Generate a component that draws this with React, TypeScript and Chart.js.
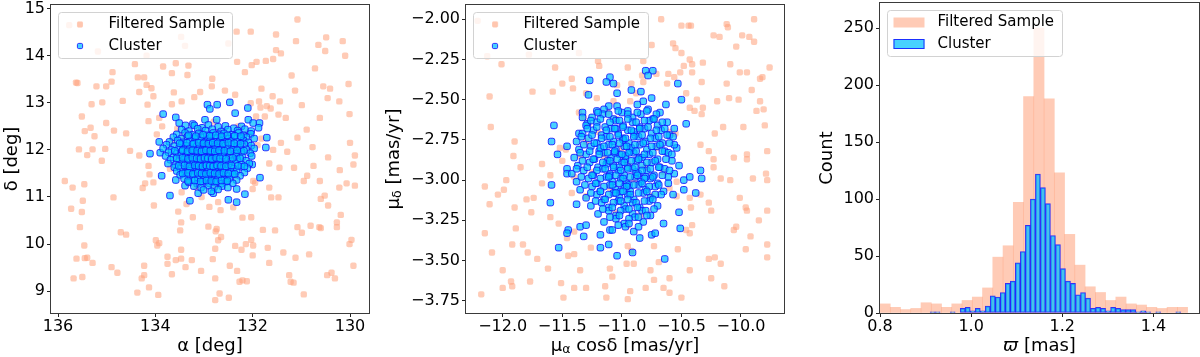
import React, { useEffect, useRef } from "react";
import { Chart, registerables } from "chart.js";

Chart.register(...registerables);

const FAMILY = "'DejaVu Sans', 'Liberation Sans', sans-serif";
const FIELD_FILL = "rgba(255, 160, 122, 0.55)";
const CLUSTER_FILL = "rgba(0, 191, 255, 0.72)";
const CLUSTER_EDGE = "rgba(20, 20, 255, 0.85)";
const FRAME = "#3a3a3a";

const legendLabels = ["Filtered Sample", "Cluster"];

// ---------- Panel 1: sky positions (alpha, delta) ----------
const skyField: [number, number][] = [
  [135.77,14.65],[135.55,14.66],[135.18,14.09],[134.18,14.0],[133.47,14.4],[133.39,14.21],[132.5,14.26],[132.33,14.51],[132.04,14.51],[131.08,14.77],[131.52,14.45],[131.11,14.31],[130.65,14.23],[130.49,14.39],[130.51,14.1],[130.15,14.31],[130.1,14.0],[131.52,14.12],[131.42,14.05],
  [131.58,13.93],[131.73,13.89],[131.92,13.87],[132.02,13.8],[132.32,13.87],[132.16,13.65],[134.42,13.82],[133.84,13.77],[133.58,13.84],[133.32,13.79],[133.34,13.59],[133.66,13.63],[134.36,13.54],[134.23,13.54],[134.18,13.38],[134.08,13.31],[134.04,13.14],[134.33,13.23],[134.88,13.65],[134.9,13.45],[135.21,13.35],[135.01,13.35],[135.63,13.43],[135.6,13.42],[135.31,12.97],[135.09,13.01],[134.67,13.04],[134.16,12.96],[133.62,13.22],[133.66,12.97],[133.46,13.03],[133.2,13.12],[133.08,13.23],[132.84,13.35],[132.83,13.51],[132.57,13.26],[132.36,13.17],[131.82,13.3],[132.04,12.99],[131.87,13.03],[131.59,13.14],[131.71,12.93],[131.44,13.03],[131.2,13.58],[131.13,13.26],[130.99,12.95],[130.72,13.73],[130.55,13.35],[130.41,13.3],[130.03,13.4],[130.22,13.03],[130.46,13.1],
  [135.51,12.71],[135.33,12.47],[135.45,12.4],[135.25,12.29],[135.01,12.57],[134.85,12.41],[134.6,12.35],[135.57,12.01],[135.29,12.01],[135.4,11.89],[135.03,12.02],[135.1,11.77],[134.52,11.98],[134.33,11.88],[134.14,12.61],[133.92,12.68],[133.86,12.5],[133.97,12.33],[130.01,12.76],[130.0,12.15],[129.93,11.69],[129.9,11.88],[129.9,11.24],[130.89,12.43],[130.62,12.68],[130.77,12.06],[131.32,12.68],[131.47,12.75],[131.63,12.88],[131.84,12.9],[131.75,12.71],[131.93,12.71],[131.42,12.15],[131.29,11.96],[131.08,12.26],[131.82,12.24],[131.58,12.0],
  [130.21,11.57],[130.07,11.29],[130.22,11.2],[130.45,11.84],[130.62,11.34],[130.88,11.45],[130.95,11.34],[130.75,11.66],[131.15,11.62],[131.45,11.62],[131.66,11.71],[131.66,11.2],[131.47,10.99],[131.62,10.99],[132.0,11.17],[131.99,11.34],[135.86,11.34],[135.7,11.2],[135.73,10.75],[135.46,11.27],[135.49,10.92],[135.51,10.68],[134.86,10.99],[134.21,11.29],[134.26,11.19],[134.14,11.66],[134.12,11.48],[134.04,11.31],[133.46,11.1],[133.05,11.0],[132.71,10.89],[132.89,10.79],[132.66,10.72],[132.4,10.78],[132.21,10.56],[132.03,10.57],[133.36,10.85],[133.53,10.69],[133.23,10.57],[134.03,10.82],[133.47,10.46],
  [135.55,10.36],[134.71,10.25],[134.6,10.2],[133.99,10.08],[133.92,10.02],[133.96,9.97],[133.49,10.29],[132.91,10.37],[132.74,10.32],[132.76,10.27],[132.71,10.08],[132.65,10.15],[132.77,9.9],[132.36,9.96],[132.23,9.88],[132.14,10.0],[131.99,9.97],[132.03,10.09],[131.79,10.3],[131.54,10.29],[131.69,9.92],[131.37,9.82],[131.12,9.71],[131.08,10.36],[130.99,10.24],[130.81,10.39],[130.63,10.36],[130.6,10.34],[130.27,10.36],[130.27,10.46],[130.19,10.62],[130.45,10.82],[130.6,10.96],[130.52,11.03],[130.01,10.0],[129.97,10.09],[135.46,9.97],
  [135.62,9.69],[135.45,9.7],[135.4,9.71],[135.29,9.6],[135.68,9.27],[135.5,9.3],[134.9,9.51],[134.78,9.39],[134.37,8.97],[134.28,9.27],[134.23,9.34],[134.23,9.54],[134.13,9.08],[133.94,8.92],[133.75,9.73],[133.75,9.58],[133.66,9.36],[133.58,9.66],[133.47,9.69],[133.47,9.88],[133.38,9.51],[133.25,9.66],[133.06,9.43],[132.82,9.68],[132.77,9.27],[132.68,8.95],[132.77,8.81],[132.49,8.86],[132.47,9.54],[132.32,9.43],[132.21,9.23],[132.27,9.2],[132.12,9.21],[132.0,9.76],[131.66,9.6],[131.25,9.34],[131.22,9.2],[131.16,9.18],[130.95,8.93],[130.84,9.78],[130.47,9.34],[130.38,9.39],[130.31,9.27],[129.93,9.54],
  [133.4,12.3],[133.1,12.45],[132.7,12.38],[132.4,12.2],[132.2,11.95],[132.55,11.6],[132.95,11.4],[133.25,11.55],[133.5,11.8],[133.3,12.05],[132.85,11.85],[132.65,12.05],[133.05,11.7],[132.35,11.45],[132.75,11.25],[133.15,11.2],[132.1,12.35],[131.9,12.1],[133.65,12.2],[133.7,11.6],[132.45,11.9],[132.9,12.15],[133.2,11.9],[132.6,11.75],[133.0,11.55],[132.3,12.5],[133.55,12.45],[132.8,12.6],[131.95,11.3],[133.35,11.35]
];

const skyCluster: [number, number][] = [
  [133.84,12.76],[133.58,12.69],[133.51,12.57],[133.38,12.52],[133.23,12.55],[132.93,12.96],[132.88,12.87],[132.73,12.96],[132.47,13.01],[132.36,12.78],[132.1,12.89],[132.09,12.64],[131.99,12.57],[131.86,12.57],[131.88,12.47],[131.71,12.26],[131.73,12.05],[131.85,11.41],[132.16,11.06],[132.33,10.89],[132.5,10.94],[133.29,10.92],[133.7,11.03],[133.87,11.45],[134.11,11.92],[133.9,11.94],[133.92,12.17],[133.58,11.36],[133.39,11.24],[133.12,11.08],[132.81,11.08],[132.33,11.17],[132.01,11.69],[132.74,12.64],[132.98,12.64],
  [133.2,12.52],[133.04,12.47],[132.91,12.53],[132.71,12.49],[132.56,12.51],[132.39,12.46],[132.23,12.5],
  [133.46,12.43],[133.31,12.4],[133.13,12.45],[132.97,12.41],[132.83,12.44],[132.65,12.39],[132.51,12.43],[132.31,12.41],[132.16,12.44],[132.03,12.4],
  [133.56,12.33],[133.39,12.36],[133.24,12.32],[133.11,12.35],[132.94,12.31],[132.81,12.36],[132.69,12.33],[132.59,12.35],[132.44,12.32],[132.29,12.36],[132.19,12.31],[132.04,12.34],
  [133.63,12.27],[133.47,12.24],[133.34,12.28],[133.19,12.25],[133.07,12.27],[132.92,12.23],[132.85,12.28],[132.73,12.25],[132.63,12.27],[132.49,12.24],[132.39,12.28],[132.24,12.25],[132.13,12.27],[131.97,12.24],
  [133.71,12.17],[133.54,12.2],[133.43,12.16],[133.29,12.19],[133.19,12.17],[133.07,12.2],[132.99,12.16],[132.87,12.19],[132.79,12.17],[132.67,12.2],[132.58,12.16],[132.44,12.19],[132.33,12.17],[132.19,12.2],[132.09,12.16],
  [133.77,12.11],[133.61,12.08],[133.46,12.12],[133.37,12.09],[133.24,12.11],[133.15,12.08],[133.03,12.12],[132.95,12.09],[132.84,12.11],[132.77,12.08],[132.65,12.12],[132.56,12.09],[132.43,12.11],[132.32,12.08],[132.17,12.12],[132.03,12.09],
  [133.84,12.03],[133.67,12.0],[133.51,12.04],[133.41,12.01],[133.29,12.03],[133.21,12.0],[133.09,12.04],[133.02,12.01],[132.91,12.03],[132.84,12.0],[132.73,12.04],[132.65,12.01],[132.51,12.03],[132.41,12.0],[132.26,12.04],[132.13,12.01],[131.97,12.03],
  [133.73,11.95],[133.56,11.92],[133.46,11.96],[133.33,11.93],[133.25,11.95],[133.14,11.92],[133.07,11.96],[132.97,11.93],[132.9,11.95],[132.8,11.92],[132.73,11.96],[132.61,11.93],[132.51,11.95],[132.36,11.92],[132.23,11.96],[132.05,11.93],
  [133.79,11.87],[133.63,11.84],[133.47,11.88],[133.38,11.85],[133.26,11.87],[133.19,11.84],[133.08,11.88],[133.02,11.85],[132.92,11.87],[132.87,11.84],[132.77,11.88],[132.71,11.85],[132.59,11.87],[132.49,11.84],[132.34,11.88],[132.21,11.85],[132.02,11.87],
  [133.69,11.79],[133.51,11.76],[133.41,11.8],[133.29,11.77],[133.22,11.79],[133.11,11.76],[133.05,11.8],[132.95,11.77],[132.9,11.79],[132.81,11.76],[132.76,11.8],[132.66,11.77],[132.58,11.79],[132.44,11.76],[132.32,11.8],[132.14,11.77],
  [133.74,11.71],[133.58,11.68],[133.43,11.72],[133.34,11.69],[133.22,11.71],[133.15,11.68],[133.05,11.72],[132.99,11.69],[132.9,11.71],[132.85,11.68],[132.76,11.72],[132.7,11.69],[132.59,11.71],[132.5,11.68],[132.35,11.72],[132.23,11.69],[132.07,11.71],
  [133.61,11.63],[133.48,11.6],[133.34,11.64],[133.26,11.61],[133.15,11.63],[133.08,11.6],[132.98,11.64],[132.93,11.61],[132.84,11.63],[132.79,11.6],[132.69,11.64],[132.62,11.61],[132.49,11.63],[132.39,11.6],[132.23,11.64],[132.11,11.61],
  [133.56,11.55],[133.39,11.52],[133.29,11.56],[133.17,11.53],[133.1,11.55],[132.99,11.52],[132.93,11.56],[132.83,11.53],[132.77,11.55],[132.66,11.52],[132.58,11.56],[132.44,11.53],[132.33,11.55],[132.17,11.52],
  [133.49,11.47],[133.32,11.44],[133.22,11.48],[133.09,11.45],[133.01,11.47],[132.9,11.44],[132.83,11.48],[132.72,11.45],[132.64,11.47],[132.51,11.44],[132.41,11.48],[132.26,11.45],
  [133.41,11.39],[133.24,11.36],[133.13,11.4],[133.0,11.37],[132.91,11.39],[132.79,11.36],[132.71,11.4],[132.58,11.37],[132.48,11.39],[132.33,11.36],
  [133.31,11.31],[133.14,11.28],[133.03,11.32],[132.89,11.29],[132.79,11.31],[132.65,11.28],[132.55,11.32],[132.41,11.29],
  [133.21,11.23],[133.06,11.2],[132.91,11.24],[132.79,11.21],[132.63,11.23],[132.51,11.2],
  [133.01,11.15],[132.85,11.12],[132.71,11.16],
  [132.88,11.74],[132.93,11.82],[132.82,11.81],[132.97,11.73],[132.79,11.66],[133.02,11.91],[132.86,11.9],[132.74,11.83],[132.95,11.65],[133.06,11.83],[132.69,11.75],[132.91,11.58],[132.84,11.97],[133.12,11.72],[132.78,12.02],[132.62,11.88],[133.0,11.99],[132.87,11.66],[132.71,11.93],[132.99,11.8],
  [133.32,12.31],[133.17,12.29],[133.02,12.32],[132.88,12.3],[132.76,12.31],[132.64,12.29],[132.52,12.31],[132.37,12.3],[132.24,12.29],
  [133.5,12.14],[133.35,12.15],[133.22,12.13],[133.11,12.15],[133.01,12.14],[132.91,12.13],[132.82,12.15],[132.72,12.14],[132.61,12.13],[132.5,12.15],[132.38,12.14],[132.25,12.13],
  [133.6,11.98],[133.44,11.99],[133.34,11.97],[133.24,11.99],[133.14,11.98],[133.05,11.97],[132.96,11.99],[132.87,11.98],[132.78,11.97],[132.69,11.99],[132.58,11.98],[132.46,11.97],[132.32,11.99],[132.18,11.98],
  [133.56,11.82],[133.44,11.83],[133.33,11.81],[133.24,11.83],[133.15,11.82],[133.07,11.81],[132.99,11.83],[132.92,11.82],[132.84,11.81],[132.75,11.83],[132.67,11.82],[132.55,11.81],[132.41,11.83],[132.26,11.82],
  [133.52,11.66],[133.4,11.67],[133.3,11.65],[133.19,11.67],[133.11,11.66],[133.03,11.65],[132.95,11.67],[132.88,11.66],[132.81,11.65],[132.73,11.67],[132.65,11.66],[132.55,11.65],[132.44,11.67],[132.3,11.66],[132.17,11.65],
  [133.44,11.5],[133.33,11.51],[133.23,11.49],[133.13,11.51],[133.05,11.5],[132.96,11.49],[132.87,11.51],[132.78,11.5],[132.69,11.49],[132.6,11.51],[132.5,11.5],[132.37,11.49],
  [133.33,11.34],[133.19,11.35],[133.07,11.33],[132.95,11.35],[132.85,11.34],[132.75,11.33],[132.64,11.35],[132.52,11.34]
];

const skyAlphaRange = [129.61, 136.144];
const skyDeltaRange = [8.536, 15.077];

// ---------- Panel 2: proper motions (mu_alpha cos delta, mu_delta) ----------
const pmField: [number, number][] = [
  [-12.21,-2.01],[-12.06,-2.03],[-12.13,-2.23],[-12.01,-2.28],[-11.78,-2.22],[-11.36,-2.21],[-11.2,-2.26],[-11.19,-2.29],[-10.95,-2.3],[-10.82,-2.26],[-10.75,-2.16],[-10.67,-2.0],[-10.5,-2.04],[-10.44,-2.04],[-10.42,-2.04],[-10.57,-2.15],[-10.55,-2.18],[-10.5,-2.21],[-10.43,-2.25],[-10.41,-2.28],[-10.48,-2.29],[-10.51,-2.33],[-10.41,-2.33],[-10.32,-2.27],[-10.23,-2.1],[-10.18,-2.11],[-10.12,-2.03],[-10.11,-2.05],[-10.04,-2.17],[-9.99,-2.1],[-9.93,-2.11],[-9.89,-2.0],[-9.89,-2.14],[-9.95,-2.33],[-10.01,-2.33],[-10.09,-2.28],[-9.76,-2.3],
  [-10.61,-2.34],[-10.56,-2.36],[-10.62,-2.4],[-10.33,-2.39],[-10.12,-2.4],[-9.82,-2.36],[-9.84,-2.37],[-9.91,-2.44],[-9.84,-2.51],[-10.02,-2.5],[-10.1,-2.49],[-10.2,-2.51],[-10.37,-2.5],[-10.43,-2.55],[-10.32,-2.55],[-10.33,-2.59],[-10.15,-2.67],[-9.98,-2.67],[-9.8,-2.66],[-9.81,-2.56],[-9.87,-2.57],[-10.83,-2.35],[-10.71,-2.34],[-10.82,-2.39],[-10.92,-2.4],[-11.04,-2.41],[-11.56,-2.3],[-11.5,-2.4],[-11.42,-2.37],[-11.58,-2.45],[-11.75,-2.45],[-11.41,-2.43],[-11.3,-2.46],[-11.21,-2.49],[-11.07,-2.51],[-10.93,-2.51],[-10.88,-2.46],
  [-12.11,-2.48],[-12.1,-2.67],[-11.9,-2.76],[-11.91,-2.85],[-11.85,-2.92],[-11.67,-2.9],[-11.6,-2.97],[-11.67,-3.02],[-11.74,-3.11],[-11.8,-3.12],[-11.97,-3.0],[-11.99,-3.06],[-12.04,-3.09],[-12.11,-3.15],[-12.15,-3.04],[-11.9,-3.17],[-11.76,-3.2],[-11.89,-3.3],[-12.15,-3.33],[-11.92,-3.4],[-11.83,-3.4],[-11.79,-3.45],[-12.09,-3.45],[-12.0,-3.56],[-11.93,-3.63],[-11.92,-3.66],[-12.0,-3.67],[-12.18,-3.71],[-11.77,-3.63],[-11.71,-3.49],[-11.62,-3.55],[-11.51,-3.64],[-11.49,-3.73],[-11.4,-3.67],[-11.45,-3.47],[-11.4,-3.46],[-11.3,-3.67],[-11.35,-3.56],[-11.26,-3.42],[-11.14,-3.66],[-11.13,-3.73],[-11.1,-3.55],[-11.08,-3.6],[-10.95,-3.74],[-10.93,-3.69],[-10.95,-3.41],[-10.92,-3.44],[-10.96,-3.52],[-10.9,-3.52],
  [-10.8,-3.67],[-10.76,-3.56],[-10.73,-3.62],[-10.73,-3.41],[-10.69,-3.51],[-10.65,-3.67],[-10.6,-3.61],[-10.6,-3.7],[-10.5,-3.73],[-10.53,-3.43],[-10.43,-3.56],[-10.43,-3.33],[-10.46,-3.31],[-10.41,-3.28],[-10.42,-3.17],[-10.43,-3.11],[-10.34,-3.09],[-10.27,-3.14],[-10.25,-3.19],[-10.27,-3.49],[-10.22,-3.48],[-10.17,-3.52],[-10.25,-3.61],[-10.14,-3.66],[-10.06,-3.31],[-10.04,-3.29],[-9.96,-3.43],[-9.92,-3.35],[-9.95,-3.19],[-9.96,-3.17],[-10.01,-3.11],[-10.17,-2.99],[-10.09,-3.0],[-9.9,-2.99],[-9.78,-3.0],[-9.79,-2.96],[-9.85,-3.25],[-9.78,-3.19],[-9.78,-3.4],[-9.78,-3.48],[-9.78,-2.82],[-9.95,-2.84],[-9.95,-2.87],[-10.06,-2.86],[-10.23,-2.92],[-10.23,-2.87],[-10.34,-2.78],[-10.27,-2.82],[-10.46,-2.46],[-10.39,-2.57],[-10.22,-2.71],[-10.55,-2.71],[-10.54,-3.01],[-10.54,-3.1],
  [-11.3,-2.76],[-11.32,-2.61],[-11.36,-2.58],[-11.52,-2.8],[-11.47,-2.81],[-11.5,-2.88],[-11.4,-3.32],[-11.53,-3.27],[-11.6,-3.23],[-11.46,-3.36],
  [-11.2,-2.7],[-11.05,-2.62],[-10.85,-2.68],[-10.7,-2.8],[-11.25,-2.95],[-11.1,-3.05],[-10.9,-3.0],[-10.75,-3.1],[-11.0,-2.8],[-10.95,-2.9],[-11.15,-2.85],[-10.8,-2.92],[-11.3,-3.1],[-10.65,-2.95],[-11.05,-3.2],[-10.85,-3.22],[-11.35,-2.85],[-10.6,-2.7],[-11.12,-2.58],[-10.95,-3.28],[-11.4,-2.98],[-11.42,-3.08],[-10.6,-3.05],[-10.72,-2.62],[-11.28,-2.65]
];

const pmCluster: [number, number][] = [
  [-11.1,-2.36],[-11.13,-2.39],[-11.07,-2.4],[-11.04,-2.46],[-11.27,-2.38],[-11.28,-2.47],[-10.92,-2.44],[-10.84,-2.45],[-10.8,-2.32],[-10.74,-2.32],[-10.78,-2.35],[-10.75,-2.49],[-10.53,-2.4],[-10.5,-2.5],[-10.63,-2.53],[-10.82,-2.51],[-11.11,-2.54],[-11.21,-2.57],[-11.33,-2.58],[-11.33,-2.61],[-11.29,-2.65],[-11.57,-2.66],[-11.36,-2.71],[-11.59,-2.76],[-11.46,-2.79],[-11.54,-2.84],[-11.59,-3.03],[-11.6,-3.14],[-11.46,-2.93],[-11.46,-2.96],[-11.38,-3.15],[-11.45,-3.31],[-11.46,-3.33],[-11.53,-3.42],[-11.35,-3.29],[-11.32,-3.35],[-11.3,-3.28],[-11.18,-3.34],[-11.18,-3.42],[-11.1,-3.31],[-11.11,-3.4],[-11.04,-3.47],[-10.91,-3.45],[-10.85,-3.36],[-10.75,-3.34],[-10.72,-3.33],[-10.65,-3.27],[-10.64,-3.49],[-10.52,-3.2],[-10.51,-3.3],[-10.57,-3.09],[-10.48,-3.06],[-10.48,-3.0],[-10.38,-3.08],[-10.34,-2.94],[-10.33,-2.99],[-10.43,-2.98],[-10.46,-2.65],[-10.56,-2.68],[-10.54,-2.8],[-10.52,-2.91],
  [-11.15,-2.56],[-11.04,-2.54],[-10.95,-2.57],[-10.87,-2.53],[-10.78,-2.56],
  [-11.25,-2.61],[-11.16,-2.59],[-11.07,-2.62],[-11.0,-2.58],[-10.91,-2.61],[-10.84,-2.59],[-10.74,-2.62],[-10.68,-2.58],
  [-11.3,-2.66],[-11.21,-2.64],[-11.14,-2.67],[-11.05,-2.63],[-10.99,-2.66],[-10.91,-2.64],[-10.85,-2.67],[-10.77,-2.63],[-10.7,-2.66],[-10.62,-2.64],
  [-11.33,-2.71],[-11.24,-2.69],[-11.17,-2.72],[-11.09,-2.68],[-11.03,-2.71],[-10.95,-2.69],[-10.89,-2.72],[-10.81,-2.68],[-10.75,-2.71],[-10.67,-2.69],[-10.6,-2.72],
  [-11.38,-2.76],[-11.28,-2.74],[-11.21,-2.77],[-11.13,-2.73],[-11.07,-2.76],[-10.99,-2.74],[-10.94,-2.77],[-10.86,-2.73],[-10.8,-2.76],[-10.72,-2.74],[-10.66,-2.77],[-10.57,-2.73],
  [-11.36,-2.81],[-11.26,-2.79],[-11.19,-2.82],[-11.11,-2.78],[-11.05,-2.81],[-10.98,-2.79],[-10.93,-2.82],[-10.85,-2.78],[-10.79,-2.81],[-10.71,-2.79],[-10.64,-2.82],[-10.56,-2.78],
  [-11.4,-2.86],[-11.3,-2.84],[-11.23,-2.87],[-11.15,-2.83],[-11.09,-2.86],[-11.02,-2.84],[-10.97,-2.87],[-10.9,-2.83],[-10.85,-2.86],[-10.77,-2.84],[-10.7,-2.87],[-10.61,-2.83],
  [-11.37,-2.91],[-11.27,-2.89],[-11.2,-2.92],[-11.12,-2.88],[-11.07,-2.91],[-11.0,-2.89],[-10.95,-2.92],[-10.88,-2.88],[-10.83,-2.91],[-10.75,-2.89],[-10.68,-2.92],[-10.58,-2.88],
  [-11.42,-2.96],[-11.32,-2.94],[-11.24,-2.97],[-11.16,-2.93],[-11.1,-2.96],[-11.03,-2.94],[-10.98,-2.97],[-10.91,-2.93],[-10.86,-2.96],[-10.79,-2.94],[-10.73,-2.97],[-10.64,-2.93],[-10.56,-2.96],
  [-11.38,-3.01],[-11.28,-2.99],[-11.21,-3.02],[-11.13,-2.98],[-11.08,-3.01],[-11.01,-2.99],[-10.96,-3.02],[-10.89,-2.98],[-10.84,-3.01],[-10.76,-2.99],[-10.7,-3.02],[-10.61,-2.98],
  [-11.35,-3.06],[-11.25,-3.04],[-11.18,-3.07],[-11.1,-3.03],[-11.05,-3.06],[-10.98,-3.04],[-10.93,-3.07],[-10.86,-3.03],[-10.8,-3.06],[-10.72,-3.04],[-10.65,-3.07],
  [-11.3,-3.11],[-11.21,-3.09],[-11.15,-3.12],[-11.07,-3.08],[-11.02,-3.11],[-10.95,-3.09],[-10.9,-3.12],[-10.82,-3.08],[-10.76,-3.11],[-10.67,-3.09],
  [-11.26,-3.16],[-11.17,-3.14],[-11.11,-3.17],[-11.03,-3.13],[-10.98,-3.16],[-10.91,-3.14],[-10.85,-3.17],[-10.77,-3.13],[-10.7,-3.16],
  [-11.2,-3.21],[-11.11,-3.19],[-11.05,-3.22],[-10.97,-3.18],[-10.91,-3.21],[-10.83,-3.19],[-10.76,-3.22],
  [-11.15,-3.26],[-11.05,-3.24],[-10.98,-3.27],[-10.89,-3.23],[-10.82,-3.26],
  [-11.08,-3.31],[-10.97,-3.29],[-10.9,-3.32],
  [-10.97,-2.85],[-11.02,-2.92],[-10.92,-2.8],[-11.06,-2.83],[-10.88,-2.95],[-10.99,-2.75],[-11.1,-2.97],[-10.94,-3.03],[-10.83,-2.86],[-11.13,-2.9],[-11.01,-3.07],[-10.9,-2.7],[-11.05,-2.68],[-10.8,-2.98],[-11.18,-2.8],
  [-11.2,-2.58],[-11.11,-2.59],[-11.03,-2.57],[-10.95,-2.59],[-10.87,-2.58],[-10.79,-2.57],[-10.71,-2.59],
  [-11.26,-2.63],[-11.18,-2.62],[-11.1,-2.64],[-11.02,-2.63],[-10.95,-2.62],[-10.88,-2.64],[-10.81,-2.63],[-10.73,-2.62],[-10.66,-2.64],
  [-11.29,-2.68],[-11.21,-2.67],[-11.13,-2.69],[-11.06,-2.68],[-10.99,-2.67],[-10.92,-2.69],[-10.85,-2.68],[-10.78,-2.67],[-10.71,-2.69],[-10.64,-2.68],
  [-11.34,-2.73],[-11.25,-2.72],[-11.17,-2.74],[-11.1,-2.73],[-11.03,-2.72],[-10.97,-2.74],[-10.9,-2.73],[-10.83,-2.72],[-10.76,-2.74],[-10.69,-2.73],[-10.62,-2.72],
  [-11.32,-2.78],[-11.23,-2.77],[-11.15,-2.79],[-11.08,-2.78],[-11.02,-2.77],[-10.96,-2.79],[-10.89,-2.78],[-10.82,-2.77],[-10.75,-2.79],[-10.68,-2.78],[-10.6,-2.77],
  [-11.35,-2.83],[-11.27,-2.82],[-11.19,-2.84],[-11.12,-2.83],[-11.06,-2.82],[-11.0,-2.84],[-10.94,-2.83],[-10.88,-2.82],[-10.81,-2.84],[-10.74,-2.83],[-10.66,-2.82],[-10.58,-2.84],
  [-11.33,-2.88],[-11.24,-2.87],[-11.16,-2.89],[-11.1,-2.88],[-11.04,-2.87],[-10.98,-2.89],[-10.92,-2.88],[-10.86,-2.87],[-10.79,-2.89],[-10.72,-2.88],[-10.63,-2.87],
  [-11.38,-2.93],[-11.29,-2.92],[-11.21,-2.94],[-11.14,-2.93],[-11.07,-2.92],[-11.01,-2.94],[-10.95,-2.93],[-10.89,-2.92],[-10.83,-2.94],[-10.76,-2.93],[-10.69,-2.92],[-10.6,-2.94],
  [-11.34,-2.98],[-11.25,-2.97],[-11.18,-2.99],[-11.11,-2.98],[-11.05,-2.97],[-10.99,-2.99],[-10.93,-2.98],[-10.87,-2.97],[-10.81,-2.99],[-10.74,-2.98],[-10.66,-2.97],
  [-11.31,-3.03],[-11.22,-3.02],[-11.15,-3.04],[-11.08,-3.03],[-11.02,-3.02],[-10.96,-3.04],[-10.9,-3.03],[-10.83,-3.02],[-10.77,-3.04],[-10.69,-3.03],[-10.61,-3.02],
  [-11.26,-3.08],[-11.18,-3.07],[-11.11,-3.09],[-11.05,-3.08],[-10.99,-3.07],[-10.93,-3.09],[-10.86,-3.08],[-10.79,-3.07],[-10.72,-3.09],
  [-11.22,-3.13],[-11.14,-3.12],[-11.07,-3.14],[-11.01,-3.13],[-10.95,-3.12],[-10.88,-3.14],[-10.81,-3.13],[-10.74,-3.12],
  [-11.16,-3.18],[-11.08,-3.17],[-11.01,-3.19],[-10.94,-3.18],[-10.87,-3.17],[-10.8,-3.19],[-10.73,-3.18],
  [-11.1,-3.23],[-11.02,-3.22],[-10.94,-3.24],[-10.86,-3.23],[-10.79,-3.22],
  [-11.03,-3.28],[-10.94,-3.27],[-10.86,-3.29]
];

const pmAlphaRange = [-12.308, -9.639];
const pmDeltaRange = [-3.826, -1.9115];

// ---------- Panel 3: parallax histograms ----------
const plxFieldFirstEdge = 0.8;
const plxFieldBinWidth = 0.0225;
const plxFieldCounts = [8, 5, 3, 4, 9, 8, 5, 8, 11, 14, 22, 49, 59, 97, 190, 250, 188, 123, 69, 42, 23, 18, 11, 14, 8, 7, 5, 4, 5, 5];
const plxClusterFirstEdge = 0.91;
const plxClusterBinWidth = 0.011;
const plxClusterCounts = [1, 1, 0, 0, 1, 0, 4, 5, 2, 4, 2, 6, 15, 14, 18, 26, 28, 44, 54, 77, 100, 122, 110, 96, 68, 60, 39, 28, 26, 16, 18, 13, 4, 5, 4, 2, 5, 4, 3, 3, 3, 1, 2, 1, 0, 1, 0, 0, 0, 1];
const plxRange = [0.8, 1.5];
const countRange = [0, 272];

// ---------- drawing helpers ----------
type Seg = { t: string; size?: number; italic?: boolean; dy?: number };

function fontOf(s: Seg) {
  return `${s.italic ? "italic " : ""}${s.size ?? 18}px ${FAMILY}`;
}

function drawRich(ctx: CanvasRenderingContext2D, segs: Seg[], cx: number, cy: number, rotated: boolean) {
  ctx.save();
  ctx.translate(cx, cy);
  if (rotated) ctx.rotate(-Math.PI / 2);
  ctx.textBaseline = "middle";
  ctx.textAlign = "left";
  ctx.fillStyle = "#000";
  let w = 0;
  for (const s of segs) {
    ctx.font = fontOf(s);
    w += ctx.measureText(s.t).width;
  }
  let x = -w / 2;
  for (const s of segs) {
    ctx.font = fontOf(s);
    ctx.fillText(s.t, x, s.dy ?? 0);
    x += ctx.measureText(s.t).width;
  }
  ctx.restore();
}

function roundRectPath(ctx: CanvasRenderingContext2D, x: number, y: number, w: number, h: number, r: number) {
  ctx.beginPath();
  ctx.moveTo(x + r, y);
  ctx.arcTo(x + w, y, x + w, y + h, r);
  ctx.arcTo(x + w, y + h, x, y + h, r);
  ctx.arcTo(x, y + h, x, y, r);
  ctx.arcTo(x, y, x + w, y, r);
  ctx.closePath();
}

interface DecorOpts {
  legendWidth: number;
  legendKind: "point" | "patch";
  xTitle: Seg[];
  yTitle: Seg[];
  yTitleOffset: number;
}

function decorPlugin(o: DecorOpts) {
  return {
    id: "decor",
    afterDatasetsDraw(chart: any) {
      const ctx: CanvasRenderingContext2D = chart.ctx;
      const a = chart.chartArea;
      ctx.save();
      ctx.strokeStyle = FRAME;
      ctx.lineWidth = 1;
      ctx.strokeRect(a.left - 0.5, a.top - 0.5, a.right - a.left + 1, a.bottom - a.top + 1);

      const bx = a.left + 7.5;
      const by = a.top + 7.5;
      const bw = o.legendWidth;
      const bh = 46;
      roundRectPath(ctx, bx, by, bw, bh, 3);
      ctx.fillStyle = "rgba(255,255,255,0.8)";
      ctx.fill();
      ctx.strokeStyle = "#d2d2d2";
      ctx.stroke();
      const rows = [by + 12, by + 33.5];
      rows.forEach((ry, i) => {
        if (o.legendKind === "point") {
          const mx = bx + 21.5;
          const h = i === 0 ? 2.9 : 2.6;
          roundRectPath(ctx, mx - h, ry - h, 2 * h, 2 * h, 1.3);
          ctx.fillStyle = i === 0 ? FIELD_FILL : CLUSTER_FILL;
          ctx.fill();
          if (i === 1) {
            ctx.strokeStyle = CLUSTER_EDGE;
            ctx.lineWidth = 1;
            ctx.stroke();
          }
        } else {
          ctx.fillStyle = i === 0 ? FIELD_FILL : CLUSTER_FILL;
          ctx.fillRect(bx + 6, ry - 5, 31, 10);
          if (i === 1) {
            ctx.strokeStyle = CLUSTER_EDGE;
            ctx.lineWidth = 1;
            ctx.strokeRect(bx + 6.5, ry - 4.5, 30, 9);
          }
        }
        ctx.fillStyle = "#000";
        ctx.font = `15px ${FAMILY}`;
        ctx.textAlign = "left";
        ctx.textBaseline = "middle";
        ctx.fillText(legendLabels[i], bx + 50, ry);
      });
      ctx.restore();

      drawRich(ctx, o.xTitle, (a.left + a.right) / 2, a.bottom + 33, false);
      drawRich(ctx, o.yTitle, a.left - o.yTitleOffset, (a.top + a.bottom) / 2, true);
    },
  };
}

const minus = (s: string) => s.replace("-", "\u2212");

function axis(
  range: number[],
  step: number,
  size: number,
  vertical: boolean,
  fmt: (v: number) => string,
  reverse = false
) {
  return {
    type: "linear",
    min: range[0],
    max: range[1],
    reverse,
    offset: false,
    ticks: {
      stepSize: step,
      includeBounds: false,
      autoSkip: false,
      maxRotation: 0,
      minRotation: 0,
      color: "#000",
      padding: vertical ? 2 : 0,
      font: { family: FAMILY, size: 16 },
      callback: (v: any) => fmt(Number(v)),
    },
    grid: {
      drawOnChartArea: false,
      drawTicks: true,
      tickLength: 4,
      tickWidth: 1,
      tickColor: "#222",
      offset: false,
    },
    border: { display: false },
    afterFit: (s: any) => {
      if (vertical) {
        s.width = size;
        s.paddingTop = 0;
        s.paddingBottom = 0;
      } else {
        s.height = size;
        s.paddingLeft = 0;
        s.paddingRight = 0;
      }
    },
  };
}

const baseOptions = {
  responsive: false,
  maintainAspectRatio: false,
  animation: false,
  devicePixelRatio: 1,
  events: [] as any[],
  plugins: { legend: { display: false }, tooltip: { enabled: false }, title: { display: false } },
};

function scatterConfig(
  field: [number, number][],
  cluster: [number, number][],
  xScale: any,
  yScale: any,
  padRight: number,
  decor: DecorOpts
): any {
  return {
    type: "scatter",
    data: {
      datasets: [
        {
          label: legendLabels[0],
          data: field.map(([x, y]) => ({ x, y })),
          pointStyle: "rectRounded",
          pointRadius: 3.7,
          backgroundColor: FIELD_FILL,
          borderWidth: 0,
          order: 2,
        },
        {
          label: legendLabels[1],
          data: cluster.map(([x, y]) => ({ x, y })),
          pointStyle: "rectRounded",
          pointRadius: 3.8,
          backgroundColor: CLUSTER_FILL,
          borderColor: CLUSTER_EDGE,
          borderWidth: 1,
          order: 1,
        },
      ],
    },
    options: {
      ...baseOptions,
      layout: { padding: { top: 3, right: padRight, left: 0, bottom: 0 } },
      scales: { x: xScale, y: yScale },
    },
    plugins: [decorPlugin(decor)],
  };
}

function histConfig(): any {
  const fieldBars = plxFieldCounts.map((c, i) => ({ x: plxFieldFirstEdge + (i + 0.5) * plxFieldBinWidth, y: c }));
  const clusterBars = plxClusterCounts.map((c, i) => ({ x: plxClusterFirstEdge + (i + 0.5) * plxClusterBinWidth, y: c }));
  const xMain = axis(plxRange, 0.2, 44, false, (v) => v.toFixed(1));
  return {
    type: "bar",
    data: {
      datasets: [
        {
          label: legendLabels[0],
          data: fieldBars,
          xAxisID: "x",
          backgroundColor: FIELD_FILL,
          borderWidth: 0,
          grouped: false,
          categoryPercentage: 1,
          barPercentage: 1,
          order: 2,
        },
        {
          label: legendLabels[1],
          data: clusterBars,
          xAxisID: "x2",
          backgroundColor: CLUSTER_FILL,
          borderColor: CLUSTER_EDGE,
          borderWidth: 1,
          borderSkipped: false,
          grouped: false,
          categoryPercentage: 1,
          barPercentage: 1,
          order: 1,
        },
      ],
    },
    options: {
      ...baseOptions,
      layout: { padding: { top: 3, right: 1, left: 0, bottom: 0 } },
      scales: {
        x: xMain,
        x2: { type: "linear", display: false, min: plxRange[0], max: plxRange[1], offset: false, grid: { offset: false } },
        y: axis(countRange, 50, 80, true, (v) => String(v)),
      },
    },
    plugins: [
      decorPlugin({
        legendWidth: 175,
        legendKind: "patch",
        xTitle: [{ t: "\u03D6", italic: true }, { t: " [mas]" }],
        yTitle: [{ t: "Count" }],
        yTitleOffset: 53,
      }),
    ],
  };
}

export default function App() {
  const r1 = useRef<HTMLCanvasElement>(null);
  const r2 = useRef<HTMLCanvasElement>(null);
  const r3 = useRef<HTMLCanvasElement>(null);

  useEffect(() => {
    const c1 = new Chart(
      r1.current!,
      scatterConfig(
        skyField,
        skyCluster,
        axis(skyAlphaRange, 2, 44, false, (v) => String(v), true),
        axis(skyDeltaRange, 1, 51, true, (v) => String(v)),
        11,
        {
          legendWidth: 174,
          legendKind: "point",
          xTitle: [{ t: "\u03B1 [deg]" }],
          yTitle: [{ t: "\u03B4 [deg]" }],
          yTitleOffset: 39,
        }
      )
    );
    const c2 = new Chart(
      r2.current!,
      scatterConfig(
        pmField,
        pmCluster,
        axis(pmAlphaRange, 0.5, 44, false, (v) => minus(v.toFixed(1))),
        axis(pmDeltaRange, 0.25, 86, true, (v) => minus(v.toFixed(2))),
        16,
        {
          legendWidth: 175,
          legendKind: "point",
          xTitle: [{ t: "\u03BC" }, { t: "\u03B1", size: 12.6, dy: 4 }, { t: " cos\u03B4 [mas/yr]" }],
          yTitle: [{ t: "\u03BC" }, { t: "\u03B4", size: 12.6, dy: 4 }, { t: " [mas/yr]" }],
          yTitleOffset: 72,
        }
      )
    );
    const c3 = new Chart(r3.current!, histConfig());
    return () => {
      c1.destroy();
      c2.destroy();
      c3.destroy();
    };
  }, []);

  const cv = (left: number, width: number) => ({
    position: "absolute" as const,
    left,
    top: 0,
    width,
    height: 357,
  });

  return (
    <div style={{ position: "fixed", left: 0, top: 0, width: 1200, height: 357, background: "#fff" }}>
      <canvas ref={r1} width={380} height={357} style={cv(0, 380)} />
      <canvas ref={r2} width={420} height={357} style={cv(380, 420)} />
      <canvas ref={r3} width={400} height={357} style={cv(800, 400)} />
    </div>
  );
}
